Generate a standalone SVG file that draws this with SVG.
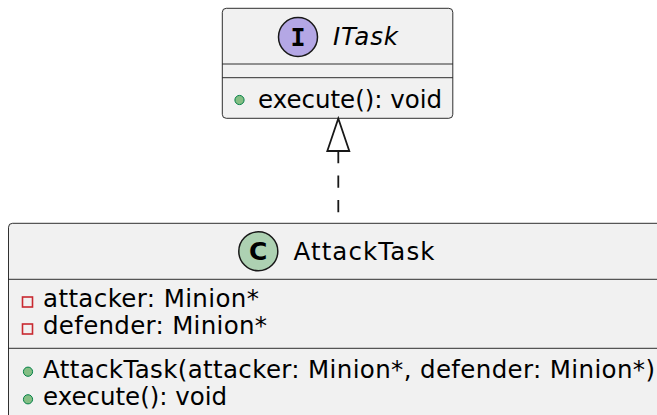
<svg xmlns="http://www.w3.org/2000/svg" width="657" height="415" viewBox="0 0 657 415">
  <defs>
    <style>
      .box { fill: #F1F1F1; stroke: #181818; stroke-width: 0.9; }
      .sep { stroke: #181818; stroke-width: 0.9; fill: none; }
      .txt { font-family: "DejaVu Sans", "Liberation Sans", sans-serif; font-size: 24.5px; fill: #000000; }
      .title-i { font-style: italic; }
      .pub { fill: #84BE84; stroke: #038048; stroke-width: 1; }
      .priv { fill: none; stroke: #C82930; stroke-width: 1.6; }
      .spot { stroke: #181818; stroke-width: 1.5; }
      .glyph { font-family: "DejaVu Sans Mono", "Liberation Mono", monospace; font-weight: bold; font-size: 25px; fill: #000000; text-anchor: middle; }
      .glyph-c { font-family: "DejaVu Sans", "Liberation Sans", sans-serif; font-weight: bold; font-size: 25px; fill: #000000; text-anchor: middle; }
      .dep { stroke: #181818; stroke-width: 1.8; fill: none; stroke-dasharray: 12.25 12.25; }
      .head { fill: #FFFFFF; stroke: #181818; stroke-width: 1.8; }
    </style>
  </defs>

  <!-- interface ITask -->
  <g id="ITask">
    <rect class="box" x="222.3" y="8.3" width="230.5" height="110" rx="4" ry="4"/>
    <circle class="spot" cx="298" cy="37" r="19.5" fill="#B4A7E5"/>
    <text class="glyph" x="298" y="45.5">I</text>
    <text class="txt title-i" x="333" y="44.5" textLength="65" lengthAdjust="spacing">ITask</text>
    <line class="sep" x1="222.3" y1="64" x2="452.8" y2="64"/>
    <line class="sep" x1="222.3" y1="77.7" x2="452.8" y2="77.7"/>
    <circle class="pub" cx="239.5" cy="100" r="4.6"/>
    <text class="txt" x="258" y="107.5">execute(): void</text>
  </g>

  <!-- class AttackTask -->
  <g id="AttackTask">
    <rect class="box" x="8.5" y="223.3" width="660" height="200" rx="4" ry="4"/>
    <circle class="spot" cx="258.3" cy="251.3" r="19.5" fill="#ADD1B2"/>
    <text class="glyph-c" x="258.3" y="260">C</text>
    <text class="txt" x="293.5" y="259.5" textLength="141" lengthAdjust="spacing">AttackTask</text>
    <line class="sep" x1="8.5" y1="279.3" x2="657" y2="279.3"/>
    <rect class="priv" x="22.5" y="297" width="10" height="10"/>
    <text class="txt" x="43" y="306.5" textLength="216" lengthAdjust="spacing">attacker: Minion*</text>
    <rect class="priv" x="22.5" y="324" width="10" height="10"/>
    <text class="txt" x="43" y="334" textLength="224" lengthAdjust="spacing">defender: Minion*</text>
    <line class="sep" x1="8.5" y1="348.3" x2="657" y2="348.3"/>
    <circle class="pub" cx="28" cy="371.7" r="4.6"/>
    <text class="txt" x="43" y="377.5" textLength="612" lengthAdjust="spacing">AttackTask(attacker: Minion*, defender: Minion*)</text>
    <circle class="pub" cx="28" cy="399.3" r="4.6"/>
    <text class="txt" x="43" y="405">execute(): void</text>
  </g>

  <!-- realization: AttackTask implements ITask -->
  <g id="connectors">
    <line class="dep" x1="338.3" y1="151" x2="338.3" y2="223.3"/>
    <polygon class="head" points="338.3,118.5 327.3,151 349.3,151"/>
  </g>
</svg>
